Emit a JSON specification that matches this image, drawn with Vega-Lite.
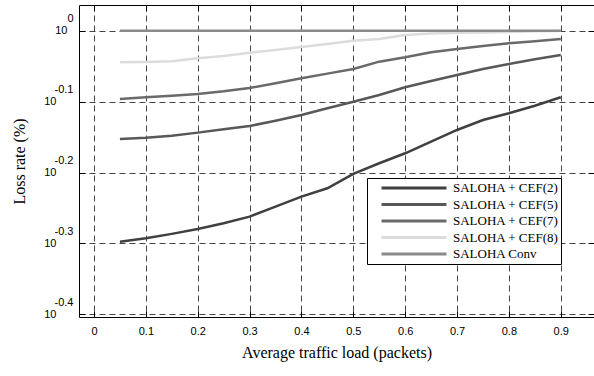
{
  "$schema": "https://vega.github.io/schema/vega-lite/v6.json",
  "width": 515,
  "height": 312,
  "autosize": {"type": "none"},
  "padding": {"left": 79, "top": 5, "right": 0, "bottom": 59},
  "background": "white",
  "config": {
    "view": {"stroke": null},
    "axis": {
      "labelFont": "Liberation Sans",
      "labelFontSize": 11,
      "labelColor": "black",
      "titleFont": "Liberation Serif",
      "titleFontSize": 16,
      "titleFontWeight": "normal",
      "titleColor": "black",
      "domainColor": "black",
      "domainWidth": 1,
      "tickColor": "black",
      "tickWidth": 1
    },
    "legend": {
      "orient": "none",
      "legendX": 288,
      "legendY": 173,
      "strokeColor": "black",
      "fillColor": "white",
      "padding": 2,
      "symbolType": "stroke",
      "symbolSize": 4225,
      "symbolStrokeWidth": 3,
      "symbolOffset": 11,
      "clipHeight": 16,
      "rowPadding": 0.5,
      "labelFont": "Liberation Serif",
      "labelFontSize": 13,
      "labelColor": "black",
      "labelOffset": 5
    }
  },
  "data": {
    "values": [
      {"x": 0.05, "s": "SALOHA + CEF(2)", "v": 0.5041},
      {"x": 0.10, "s": "SALOHA + CEF(2)", "v": 0.5096},
      {"x": 0.15, "s": "SALOHA + CEF(2)", "v": 0.5170},
      {"x": 0.20, "s": "SALOHA + CEF(2)", "v": 0.5252},
      {"x": 0.25, "s": "SALOHA + CEF(2)", "v": 0.5352},
      {"x": 0.30, "s": "SALOHA + CEF(2)", "v": 0.5467},
      {"x": 0.35, "s": "SALOHA + CEF(2)", "v": 0.5649},
      {"x": 0.40, "s": "SALOHA + CEF(2)", "v": 0.5834},
      {"x": 0.45, "s": "SALOHA + CEF(2)", "v": 0.5994},
      {"x": 0.50, "s": "SALOHA + CEF(2)", "v": 0.6280},
      {"x": 0.55, "s": "SALOHA + CEF(2)", "v": 0.6502},
      {"x": 0.60, "s": "SALOHA + CEF(2)", "v": 0.6716},
      {"x": 0.65, "s": "SALOHA + CEF(2)", "v": 0.6976},
      {"x": 0.70, "s": "SALOHA + CEF(2)", "v": 0.7244},
      {"x": 0.75, "s": "SALOHA + CEF(2)", "v": 0.7482},
      {"x": 0.80, "s": "SALOHA + CEF(2)", "v": 0.7647},
      {"x": 0.85, "s": "SALOHA + CEF(2)", "v": 0.7838},
      {"x": 0.90, "s": "SALOHA + CEF(2)", "v": 0.8055},
      {"x": 0.05, "s": "SALOHA + CEF(5)", "v": 0.7036},
      {"x": 0.10, "s": "SALOHA + CEF(5)", "v": 0.7065},
      {"x": 0.15, "s": "SALOHA + CEF(5)", "v": 0.7112},
      {"x": 0.20, "s": "SALOHA + CEF(5)", "v": 0.7182},
      {"x": 0.25, "s": "SALOHA + CEF(5)", "v": 0.7261},
      {"x": 0.30, "s": "SALOHA + CEF(5)", "v": 0.7338},
      {"x": 0.35, "s": "SALOHA + CEF(5)", "v": 0.7464},
      {"x": 0.40, "s": "SALOHA + CEF(5)", "v": 0.7603},
      {"x": 0.45, "s": "SALOHA + CEF(5)", "v": 0.7772},
      {"x": 0.50, "s": "SALOHA + CEF(5)", "v": 0.7941},
      {"x": 0.55, "s": "SALOHA + CEF(5)", "v": 0.8115},
      {"x": 0.60, "s": "SALOHA + CEF(5)", "v": 0.8322},
      {"x": 0.65, "s": "SALOHA + CEF(5)", "v": 0.8493},
      {"x": 0.70, "s": "SALOHA + CEF(5)", "v": 0.8660},
      {"x": 0.75, "s": "SALOHA + CEF(5)", "v": 0.8831},
      {"x": 0.80, "s": "SALOHA + CEF(5)", "v": 0.8974},
      {"x": 0.85, "s": "SALOHA + CEF(5)", "v": 0.9114},
      {"x": 0.90, "s": "SALOHA + CEF(5)", "v": 0.9241},
      {"x": 0.05, "s": "SALOHA + CEF(7)", "v": 0.8011},
      {"x": 0.10, "s": "SALOHA + CEF(7)", "v": 0.8053},
      {"x": 0.15, "s": "SALOHA + CEF(7)", "v": 0.8098},
      {"x": 0.20, "s": "SALOHA + CEF(7)", "v": 0.8141},
      {"x": 0.25, "s": "SALOHA + CEF(7)", "v": 0.8213},
      {"x": 0.30, "s": "SALOHA + CEF(7)", "v": 0.8303},
      {"x": 0.35, "s": "SALOHA + CEF(7)", "v": 0.8429},
      {"x": 0.40, "s": "SALOHA + CEF(7)", "v": 0.8567},
      {"x": 0.45, "s": "SALOHA + CEF(7)", "v": 0.8698},
      {"x": 0.50, "s": "SALOHA + CEF(7)", "v": 0.8831},
      {"x": 0.55, "s": "SALOHA + CEF(7)", "v": 0.9043},
      {"x": 0.60, "s": "SALOHA + CEF(7)", "v": 0.9171},
      {"x": 0.65, "s": "SALOHA + CEF(7)", "v": 0.9322},
      {"x": 0.70, "s": "SALOHA + CEF(7)", "v": 0.9423},
      {"x": 0.75, "s": "SALOHA + CEF(7)", "v": 0.9515},
      {"x": 0.80, "s": "SALOHA + CEF(7)", "v": 0.9598},
      {"x": 0.85, "s": "SALOHA + CEF(7)", "v": 0.9661},
      {"x": 0.90, "s": "SALOHA + CEF(7)", "v": 0.9734},
      {"x": 0.05, "s": "SALOHA + CEF(8)", "v": 0.9024},
      {"x": 0.10, "s": "SALOHA + CEF(8)", "v": 0.9036},
      {"x": 0.15, "s": "SALOHA + CEF(8)", "v": 0.9053},
      {"x": 0.20, "s": "SALOHA + CEF(8)", "v": 0.9141},
      {"x": 0.25, "s": "SALOHA + CEF(8)", "v": 0.9211},
      {"x": 0.30, "s": "SALOHA + CEF(8)", "v": 0.9311},
      {"x": 0.35, "s": "SALOHA + CEF(8)", "v": 0.9393},
      {"x": 0.40, "s": "SALOHA + CEF(8)", "v": 0.9484},
      {"x": 0.45, "s": "SALOHA + CEF(8)", "v": 0.9576},
      {"x": 0.50, "s": "SALOHA + CEF(8)", "v": 0.9680},
      {"x": 0.55, "s": "SALOHA + CEF(8)", "v": 0.9734},
      {"x": 0.60, "s": "SALOHA + CEF(8)", "v": 0.9863},
      {"x": 0.65, "s": "SALOHA + CEF(8)", "v": 0.9908},
      {"x": 0.70, "s": "SALOHA + CEF(8)", "v": 0.9931},
      {"x": 0.75, "s": "SALOHA + CEF(8)", "v": 0.9943},
      {"x": 0.80, "s": "SALOHA + CEF(8)", "v": 0.9954},
      {"x": 0.85, "s": "SALOHA + CEF(8)", "v": 0.9977},
      {"x": 0.90, "s": "SALOHA + CEF(8)", "v": 0.9991},
      {"x": 0.05, "s": "SALOHA Conv", "v": 1.0},
      {"x": 0.10, "s": "SALOHA Conv", "v": 1.0},
      {"x": 0.15, "s": "SALOHA Conv", "v": 1.0},
      {"x": 0.20, "s": "SALOHA Conv", "v": 1.0},
      {"x": 0.25, "s": "SALOHA Conv", "v": 1.0},
      {"x": 0.30, "s": "SALOHA Conv", "v": 1.0},
      {"x": 0.35, "s": "SALOHA Conv", "v": 1.0},
      {"x": 0.40, "s": "SALOHA Conv", "v": 1.0},
      {"x": 0.45, "s": "SALOHA Conv", "v": 1.0},
      {"x": 0.50, "s": "SALOHA Conv", "v": 1.0},
      {"x": 0.55, "s": "SALOHA Conv", "v": 1.0},
      {"x": 0.60, "s": "SALOHA Conv", "v": 1.0},
      {"x": 0.65, "s": "SALOHA Conv", "v": 1.0},
      {"x": 0.70, "s": "SALOHA Conv", "v": 1.0},
      {"x": 0.75, "s": "SALOHA Conv", "v": 1.0},
      {"x": 0.80, "s": "SALOHA Conv", "v": 1.0},
      {"x": 0.85, "s": "SALOHA Conv", "v": 1.0},
      {"x": 0.90, "s": "SALOHA Conv", "v": 1.0}
    ]
  },
  "layer": [
    {
      "mark": {"type": "line", "strokeWidth": 2.5, "clip": true},
      "encoding": {
        "x": {
          "field": "x", "type": "quantitative",
          "scale": {"domain": [-0.0289, 0.9641], "nice": false, "zero": false},
          "axis": {
            "orient": "bottom",
            "values": [0, 0.1, 0.2, 0.3, 0.4, 0.5, 0.6, 0.7, 0.8, 0.9],
            "format": ".1~f",
            "title": "Average traffic load (packets)",
            "titlePadding": 8,
            "grid": true, "gridDash": [6, 4], "gridColor": "#444",
            "tickSize": -6,
            "labelPadding": 14,
            "labelBaseline": "top"
          }
        },
        "y": {
          "field": "v", "type": "quantitative",
          "scale": {"type": "log", "domain": [0.3947, 1.0869], "nice": false},
          "axis": {
            "orient": "left",
            "values": [1, 0.794328, 0.630957, 0.501187, 0.398107],
            "labelExpr": "'10'",
            "labelAlign": "right",
            "labelBaseline": "middle",
            "labelPadding": {"condition": {"test": "datum.value > 0.99", "value": 18}, "value": 29},
            "title": "Loss rate (%)",
            "titlePadding": 16,
            "grid": true, "gridDash": [6, 4], "gridColor": "#444",
            "tickSize": -6
          }
        },
        "color": {
          "field": "s", "type": "nominal",
          "scale": {
            "domain": ["SALOHA + CEF(2)", "SALOHA + CEF(5)", "SALOHA + CEF(7)", "SALOHA + CEF(8)", "SALOHA Conv"],
            "range": ["#404040", "#585858", "#6a6a6a", "#dcdcdc", "#8a8a8a"]
          },
          "legend": {"title": null}
        }
      }
    },
    {
      "mark": {"type": "point", "opacity": 0},
      "encoding": {
        "x": {
          "field": "x", "type": "quantitative",
          "scale": {"domain": [-0.0289, 0.9641], "nice": false, "zero": false},
          "axis": {
            "orient": "top",
            "values": [0, 0.1, 0.2, 0.3, 0.4, 0.5, 0.6, 0.7, 0.8, 0.9],
            "labels": false, "title": null, "grid": false,
            "tickSize": -6
          }
        },
        "y": {
          "field": "v", "type": "quantitative",
          "scale": {"type": "log", "domain": [0.3947, 1.0869], "nice": false},
          "axis": {
            "orient": "left",
            "values": [1, 0.794328, 0.630957, 0.501187, 0.398107],
            "labelExpr": "datum.value > 0.99 ? '0' : '-0.' + round(-10 * log(datum.value) / LN10)",
            "labelAlign": "right",
            "labelBaseline": "middle",
            "labelOffset": -12,
            "labelPadding": 6,
            "ticks": false, "domain": false, "grid": false, "title": null
          }
        }
      }
    },
    {
      "mark": {"type": "point", "opacity": 0},
      "encoding": {
        "x": {
          "field": "x", "type": "quantitative",
          "scale": {"domain": [-0.0289, 0.9641], "nice": false, "zero": false},
          "axis": null
        },
        "y": {
          "field": "v", "type": "quantitative",
          "scale": {"type": "log", "domain": [0.3947, 1.0869], "nice": false},
          "axis": {
            "orient": "right",
            "values": [1, 0.794328, 0.630957, 0.501187, 0.398107],
            "labels": false, "domain": false, "grid": false, "title": null,
            "tickSize": -6
          }
        }
      }
    }
  ],
  "resolve": {"axis": {"x": "independent", "y": "independent"}}
}
